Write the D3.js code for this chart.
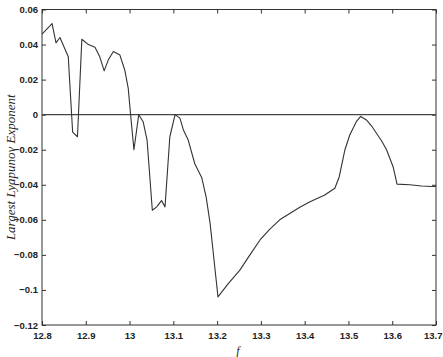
<!DOCTYPE html>
<html>
<head>
<meta charset="utf-8">
<script src="https://cdn.jsdelivr.net/npm/d3@7"></script>
<style>
  body { margin: 0; background: #fff; }
  svg text { fill: #222; }
</style>
</head>
<body>
<div id="chart"></div>
<script>
// forcing parameter f
const fValues = [12.800, 12.823, 12.832, 12.841, 12.860, 12.870, 12.881, 12.891, 12.906, 12.921,
  12.932, 12.942, 12.951, 12.963, 12.978, 12.989, 12.997, 13.002, 13.010, 13.021,
  13.031, 13.040, 13.052, 13.062, 13.073, 13.081, 13.092, 13.104, 13.115, 13.123,
  13.134, 13.149, 13.165, 13.175, 13.184, 13.202, 13.225, 13.252, 13.275, 13.298,
  13.320, 13.343, 13.365, 13.389, 13.410, 13.427, 13.445, 13.469, 13.479, 13.492,
  13.503, 13.518, 13.528, 13.541, 13.553, 13.564, 13.576, 13.587, 13.602, 13.611,
  13.640, 13.667, 13.690, 13.700];
// largest Lyapunov exponent
const lyapValues = [0.046, 0.052, 0.041, 0.044, 0.033, -0.010, -0.0126, 0.043, 0.040, 0.0385,
  0.033, 0.025, 0.031, 0.036, 0.034, 0.0255, 0.015, 0.001, -0.020, 0.000,
  -0.004, -0.0145, -0.0545, -0.0526, -0.049, -0.0526, -0.0126, 0.000, -0.002, -0.0087,
  -0.0145, -0.028, -0.036, -0.047, -0.062, -0.104, -0.0965, -0.0887, -0.080, -0.0715,
  -0.0655, -0.060, -0.0565, -0.0528, -0.050, -0.048, -0.046, -0.042, -0.0354, -0.020,
  -0.0116, -0.004, -0.001, -0.003, -0.0065, -0.0106, -0.015, -0.020, -0.0297, -0.0396,
  -0.040, -0.0407, -0.041, -0.041];

const xTicks = [12.8, 12.9, 13, 13.1, 13.2, 13.3, 13.4, 13.5, 13.6, 13.7];
const yTicks = [0.06, 0.04, 0.02, 0, -0.02, -0.04, -0.06, -0.08, -0.1, -0.12];

const width = 443, height = 357;
const margin = { top: 9.5, right: 7, bottom: 32, left: 42 };

const svg = d3.select('#chart').append('svg')
  .attr('width', width)
  .attr('height', height);

const x = d3.scaleLinear().domain([12.8, 13.7]).range([margin.left, width - margin.right]);
const y = d3.scaleLinear().domain([-0.12, 0.06]).range([height - margin.bottom, margin.top]);

const tickFont = 'Liberation Sans, Arial, sans-serif';

// box
svg.append('rect')
  .attr('x', x(12.8)).attr('y', y(0.06))
  .attr('width', x(13.7) - x(12.8)).attr('height', y(-0.12) - y(0.06))
  .attr('fill', 'none').attr('stroke', '#333').attr('stroke-width', 1);

// bottom axis
const xAxis = svg.append('g')
  .attr('transform', `translate(0,${y(-0.12)})`)
  .call(d3.axisBottom(x).tickValues(xTicks).tickSizeInner(-4).tickSizeOuter(0).tickPadding(7)
    .tickFormat(d => d3.format('')(+d.toFixed(1))));
xAxis.select('.domain').remove();
xAxis.selectAll('line').attr('stroke', '#333');
xAxis.selectAll('text').attr('font-family', tickFont).attr('font-size', 9.5).attr('font-weight', 'bold').attr('fill', '#333');
// last label sits at the very edge, keep it inside the window
xAxis.selectAll('text').filter(d => d === 13.7).attr('text-anchor', 'end').attr('dx', 6);

// top ticks
const xTop = svg.append('g')
  .attr('transform', `translate(0,${y(0.06)})`)
  .call(d3.axisTop(x).tickValues(xTicks).tickSizeInner(-4).tickSizeOuter(0).tickFormat(''));
xTop.select('.domain').remove();
xTop.selectAll('line').attr('stroke', '#333');

// left axis
const yAxis = svg.append('g')
  .attr('transform', `translate(${x(12.8)},0)`)
  .call(d3.axisLeft(y).tickValues(yTicks).tickSizeInner(-4).tickSizeOuter(0).tickPadding(4)
    .tickFormat(d => d3.format('')(+d.toFixed(2))));
yAxis.select('.domain').remove();
yAxis.selectAll('line').attr('stroke', '#333');
yAxis.selectAll('text').attr('font-family', tickFont).attr('font-size', 9.5).attr('font-weight', 'bold').attr('fill', '#333');

// right ticks
const yRight = svg.append('g')
  .attr('transform', `translate(${x(13.7)},0)`)
  .call(d3.axisRight(y).tickValues(yTicks).tickSizeInner(-4).tickSizeOuter(0).tickFormat(''));
yRight.select('.domain').remove();
yRight.selectAll('line').attr('stroke', '#333');

// zero line
svg.append('line')
  .attr('x1', x(12.8)).attr('x2', x(13.7))
  .attr('y1', y(0)).attr('y2', y(0))
  .attr('stroke', '#444').attr('stroke-width', 1.2);

// data line
const data = fValues.map((f, i) => ({ f: f, v: lyapValues[i] }));
const line = d3.line().x(d => x(d.f)).y(d => y(d.v));
svg.append('path')
  .datum(data)
  .attr('d', line)
  .attr('fill', 'none')
  .attr('stroke', '#333')
  .attr('stroke-width', 1.1)
  .attr('stroke-linejoin', 'round');

// axis labels
svg.append('text')
  .attr('transform', `translate(15,${(y(0.06) + y(-0.12)) / 2}) rotate(-90)`)
  .attr('text-anchor', 'middle')
  .attr('font-family', 'Liberation Serif, Times New Roman, serif')
  .attr('font-style', 'italic')
  .attr('font-size', 13)
  .attr('fill', '#333')
  .text('Largest Lyapunov Exponent');

svg.append('text')
  .attr('x', (x(12.8) + x(13.7)) / 2 - 1)
  .attr('y', 355)
  .attr('text-anchor', 'middle')
  .attr('font-family', 'Liberation Serif, Times New Roman, serif')
  .attr('font-style', 'italic')
  .attr('font-size', 12)
  .attr('fill', '#333')
  .text('f');
</script>
</body>
</html>
